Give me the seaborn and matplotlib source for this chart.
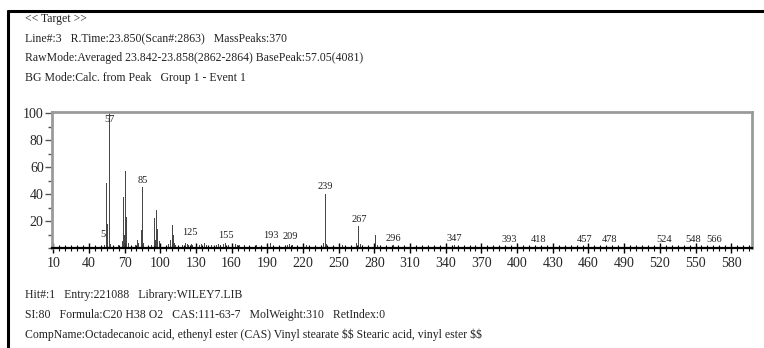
import matplotlib
matplotlib.use("Agg")
import matplotlib.pyplot as plt
import seaborn as sns
import numpy as np
from matplotlib.lines import Line2D
from matplotlib.ticker import MultipleLocator, FixedLocator

# header / footer text of the GCMS report
header = ["<< Target >>",
          "Line#:3   R.Time:23.850(Scan#:2863)   MassPeaks:370",
          "RawMode:Averaged 23.842-23.858(2862-2864) BasePeak:57.05(4081)",
          "BG Mode:Calc. from Peak   Group 1 - Event 1"]
footer = ["Hit#:1   Entry:221088   Library:WILEY7.LIB",
          "SI:80   Formula:C20 H38 O2   CAS:111-63-7   MolWeight:310   RetIndex:0",
          "CompName:Octadecanoic acid, ethenyl ester (CAS) Vinyl stearate $$ Stearic acid, vinyl ester $$"]

# m/z and relative intensity (%)
mz = [53, 55, 56, 57, 58,
      65, 67, 68, 69, 70, 71, 72, 73,
      79, 81, 82, 83, 84, 85, 86,
      93, 95, 96, 97, 98, 99,
      107, 109, 110, 111, 112, 113,
      119, 121, 123, 124, 125, 126, 127,
      133, 135, 137, 139, 141, 143,
      147, 149, 151, 153, 155, 157, 159,
      163, 165, 167, 169, 171, 175, 179, 181, 183, 187,
      193, 195, 199, 207, 209, 211, 215, 221, 223, 225, 229,
      235, 237, 239, 240, 245, 251, 253, 255, 259,
      265, 267, 268, 271, 277, 281, 283, 289, 296, 299, 305,
      311, 319, 325, 329, 337, 343, 347, 349, 355, 365, 375,
      381, 393, 403, 411, 418, 425, 437, 447, 457, 465, 478,
      487, 503, 513, 524, 533, 541, 548, 557, 566, 575, 585]
intensity = [2, 48, 18, 100, 3,
             2, 14, 5, 38, 10, 57, 23, 4,
             2, 6, 4, 30, 13, 45, 4,
             2, 22, 6, 28, 14, 5,
             3, 6, 17, 10, 4, 2,
             2, 4, 3, 2, 6, 3, 2,
             2, 3, 4, 2, 3, 2,
             2, 3, 2, 3, 4, 2, 1,
             3, 2, 2, 1, 2, 1, 1, 2, 1, 1,
             4, 1, 1, 2, 3, 2, 1, 1, 2, 1, 1,
             1, 4, 40, 3, 1, 1, 2, 1, 1,
             4, 16, 3, 1, 1, 10, 2, 1, 2, 1, 1,
             1, 1, 1, 1, 1, 1, 2, 1, 1, 1, 1,
             1, 1, 1, 1, 1, 1, 1, 1, 1, 1, 1,
             1, 1, 1, 1, 1, 1, 1, 1, 1, 1, 1]
labelled = [57, 85, 125, 155, 193, 209, 239, 267, 296, 347, 393, 418,
            457, 478, 524, 548, 566]

sns.set_style("white")
plt.rcParams["font.family"] = ["Liberation Serif", "DejaVu Serif"]

fig = plt.figure(figsize=(7.64, 3.48), dpi=100)
ax = fig.add_axes([52 / 764, 1 - 248 / 348, 700 / 764, 136 / 348])

sns.histplot(x=mz, weights=intensity, discrete=True, color="#333333",
             linewidth=0, alpha=0.9, ax=ax, shrink=0.8)

ax.set_xlim(9, 597.5)
ax.set_ylim(0, 101)
ax.set_xlabel("")
ax.set_ylabel("")

ax.xaxis.set_major_locator(FixedLocator(np.arange(10, 581, 30)))
ax.xaxis.set_minor_locator(MultipleLocator(5))
ax.yaxis.set_major_locator(FixedLocator([20, 40, 60, 80, 100]))
ax.yaxis.set_minor_locator(MultipleLocator(10))
ax.tick_params(axis="x", which="major", direction="inout", length=7, width=1,
               labelsize=10, pad=3, color="black", bottom=True)
ax.tick_params(axis="x", which="minor", direction="inout", length=4, width=0.8,
               color="black", bottom=True)
ax.tick_params(axis="y", which="major", direction="out", length=5, width=1,
               labelsize=10, pad=1, color="#555555", left=True)
ax.tick_params(axis="y", which="minor", direction="out", length=3, width=1,
               color="#555555", left=True)

for side in ["top", "right", "left"]:
    ax.spines[side].set_color("#9a9a9a")
    ax.spines[side].set_linewidth(2)
ax.spines["bottom"].set_color("black")
ax.spines["bottom"].set_linewidth(1.6)

lookup = dict(zip(mz, intensity))
for m in labelled:
    h = lookup[m]
    ax.text(m, min(h + 2, 92), str(m), ha="center", va="bottom",
            fontsize=7.5, color="#222222")
ax.text(54, 7, "5", ha="right", va="bottom", fontsize=7.5, color="#222222")

for i, line in enumerate(header):
    fig.text(25 / 764, 1 - (19 + 19.5 * i) / 348, line, ha="left", va="center",
             fontsize=8.5, color="#222222", parse_math=False)
for i, line in enumerate(footer):
    fig.text(25 / 764, 1 - (295 + 20 * i) / 348, line, ha="left", va="center",
             fontsize=8.5, color="#222222", parse_math=False)

# outer report frame
fig.add_artist(Line2D([8 / 764, 1], [1 - 11 / 348, 1 - 11 / 348],
                      transform=fig.transFigure, color="black", lw=2.2))
fig.add_artist(Line2D([8 / 764, 8 / 764], [0, 1 - 11 / 348],
                      transform=fig.transFigure, color="black", lw=2.2))

fig.savefig("out.png", dpi=100)
